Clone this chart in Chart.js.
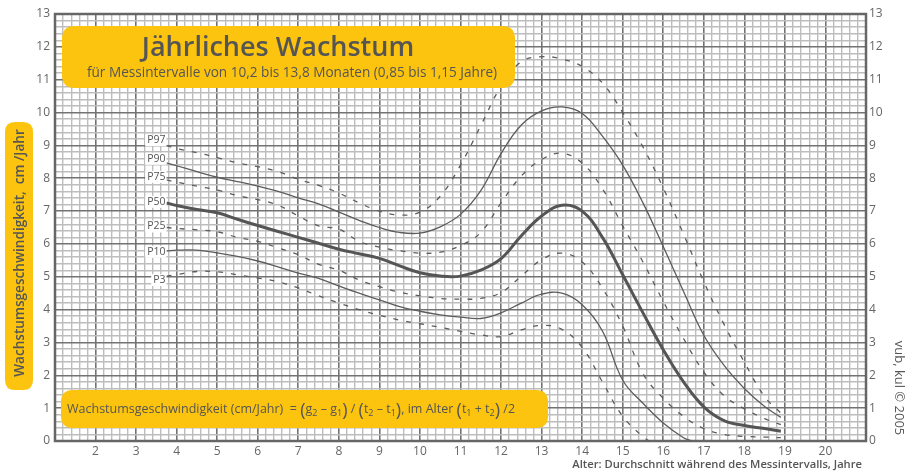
<!DOCTYPE html>
<html>
<head>
<meta charset="utf-8">
<script src="https://cdn.jsdelivr.net/npm/chart.js@4/dist/chart.umd.min.js"></script>
<style>
  html, body { margin: 0; padding: 0; background: #fff; }
</style>
</head>
<body>
<canvas id="c" width="913" height="472"></canvas>
<script>
// Age (years, mid-point of the measuring interval)
const ages = [3.75, 4, 4.5, 5, 5.5, 6, 6.5, 7, 7.5, 8, 8.5, 9, 9.5, 10, 10.5, 11, 11.5,
              12, 12.5, 13, 13.5, 14, 14.5, 15, 15.5, 16, 16.5, 17, 17.5, 18, 18.5, 18.9];

// Height velocity percentiles, cm/year
const p97 = [9.0, 8.9, 8.78, 8.63, 8.47, 8.35, 8.2, 7.97, 7.78, 7.55, 7.25, 7.0, 6.88, 6.97, 7.45, 8.4, 9.6,
             10.8, 11.55, 11.7, 11.63, 11.4, 10.9, 10.0, 8.95, 7.7, 6.3, 4.85, 3.55, 2.4, 1.35, 0.85];
const p90 = [8.47, 8.38, 8.2, 8.03, 7.9, 7.76, 7.6, 7.4, 7.22, 6.97, 6.72, 6.5, 6.35, 6.33, 6.52, 6.9, 7.62,
             8.75, 9.62, 10.05, 10.17, 9.97, 9.28, 8.4, 7.25, 5.92, 4.55, 3.22, 2.3, 1.6, 1.05, 0.72];
const p75 = [7.95, 7.88, 7.76, 7.64, 7.47, 7.35, 7.18, 6.85, 6.55, 6.45, 6.08, 5.9, 5.79, 5.72, 5.75, 5.95, 6.35,
             7.25, 8.07, 8.57, 8.76, 8.46, 7.68, 6.55, 5.45, 4.25, 3.12, 2.1, 1.38, 0.98, 0.68, 0.5];
const p50 = [7.25, 7.17, 7.05, 6.95, 6.75, 6.56, 6.38, 6.2, 6.02, 5.84, 5.7, 5.56, 5.33, 5.12, 5.02, 5.02, 5.2,
             5.55, 6.25, 6.85, 7.18, 7.0, 6.2, 5.06, 3.9, 2.78, 1.8, 1.04, 0.62, 0.47, 0.38, 0.3];
const p25 = [6.5, 6.47, 6.43, 6.37, 6.2, 6.08, 5.88, 5.67, 5.38, 5.2, 4.9, 4.7, 4.53, 4.42, 4.34, 4.32, 4.34,
             4.52, 5.02, 5.52, 5.72, 5.45, 4.65, 3.5, 2.05, 1.3, 0.75, 0.38, 0.2, 0.14, 0.12, 0.1];
const p10 = [5.79, 5.81, 5.81, 5.73, 5.62, 5.48, 5.3, 5.11, 4.95, 4.72, 4.5, 4.3, 4.09, 3.95, 3.84, 3.77, 3.73,
             3.9, 4.2, 4.47, 4.5, 4.15, 3.35, 1.85, 1.15, 0.55, 0.1];
const p3  = [5.02, 5.07, 5.16, 5.15, 5.06, 4.96, 4.85, 4.66, 4.42, 4.2, 4.0, 3.83, 3.68, 3.57, 3.46, 3.34, 3.23,
             3.18, 3.38, 3.52, 3.4, 2.85, 1.8, 0.75, 0.13];
// ages at which the lowest curves reach zero
const zeroAgeP10 = 16.7;
const zeroAgeP3 = 15.65;

// Axis ranges and tick labels
const xMin = 1, xMax = 21, yMin = 0, yMax = 13;
const xTickLabels = [2, 3, 4, 5, 6, 7, 8, 9, 10, 11, 12, 13, 14, 15, 16, 17, 18, 19, 20];
const yTickLabels = [0, 1, 2, 3, 4, 5, 6, 7, 8, 9, 10, 11, 12, 13];
const minorStep = 0.2;

const FONT = '"Open Sans", Lato, sans-serif';
const INK = '#555555';
const YELLOW = '#FCC40E';

function points(vals, zeroAge) {
  const pts = vals.map((v, i) => ({ x: ages[i], y: v }));
  if (zeroAge !== undefined) pts.push({ x: zeroAge, y: 0 });
  return pts;
}

function stepTicks(min, max) {
  const out = [];
  const n = Math.round((max - min) / minorStep);
  for (let i = 0; i <= n; i++) out.push({ value: Math.round((min + i * minorStep) * 1e6) / 1e6 });
  return out;
}
const isWhole = v => Math.abs(v - Math.round(v)) < 1e-6;

const thin = 1.3;
const dash = [5, 8];
const lineColor = '#5c5c5c';

const datasets = [
  { label: 'P97', data: points(p97), borderDash: dash, borderWidth: thin },
  { label: 'P90', data: points(p90), borderWidth: thin },
  { label: 'P75', data: points(p75), borderDash: dash, borderWidth: thin },
  { label: 'P50', data: points(p50), borderWidth: 3, borderColor: '#555' },
  { label: 'P25', data: points(p25), borderDash: dash, borderWidth: thin },
  { label: 'P10', data: points(p10, zeroAgeP10), borderWidth: thin },
  { label: 'P3',  data: points(p3, zeroAgeP3), borderDash: dash, borderWidth: thin }
].map(d => Object.assign({
  borderColor: lineColor, pointRadius: 0, fill: false, tension: 0.4, clip: 1
}, d));

function roundRect(ctx, x, y, w, h, r) {
  ctx.beginPath();
  ctx.moveTo(x + r, y);
  ctx.lineTo(x + w - r, y);
  ctx.quadraticCurveTo(x + w, y, x + w, y + r);
  ctx.lineTo(x + w, y + h - r);
  ctx.quadraticCurveTo(x + w, y + h, x + w - r, y + h);
  ctx.lineTo(x + r, y + h);
  ctx.quadraticCurveTo(x, y + h, x, y + h - r);
  ctx.lineTo(x, y + r);
  ctx.quadraticCurveTo(x, y, x + r, y);
  ctx.closePath();
}

function drawRich(ctx, x, y, parts, size) {
  for (const p of parts) {
    let fs = size, dy = 0;
    if (p.sub) { fs = size * 0.72; dy = 3; }
    if (p.big) { fs = size * 1.45; dy = 2.5; }
    ctx.font = `${fs}px ${FONT}`;
    ctx.fillText(p.t, x, y + dy);
    x += ctx.measureText(p.t).width;
  }
}

// Frame, percentile labels and the yellow annotation boxes
const decorations = {
  id: 'decorations',
  beforeDatasetsDraw(chart) {
    const { ctx, chartArea: a } = chart;
    ctx.save();
    ctx.strokeStyle = '#666';
    ctx.lineWidth = 2.5;
    ctx.strokeRect(a.left, a.top, a.right - a.left, a.bottom - a.top);
    ctx.restore();
  },
  afterDatasetsDraw(chart) {
    const { ctx, scales } = chart;
    ctx.save();

    // percentile names at the start of each curve
    ctx.font = `10.5px ${FONT}`;
    ctx.textAlign = 'right';
    ctx.textBaseline = 'middle';
    const offs = { P97: -5, P90: -4, P75: -3, P50: -1, P25: -1, P10: 1, P3: 4 };
    chart.data.datasets.forEach(ds => {
      const first = ds.data[0];
      const px = scales.x.getPixelForValue(first.x) - 1;
      const py = scales.y.getPixelForValue(first.y) + offs[ds.label];
      const w = ctx.measureText(ds.label).width;
      ctx.fillStyle = '#fff';
      ctx.fillRect(px - w - 2, py - 6, w + 3, 12);
      ctx.fillStyle = INK;
      ctx.fillText(ds.label, px, py);
    });

    // title box
    ctx.fillStyle = YELLOW;
    roundRect(ctx, 62, 26, 453, 62, 13);
    ctx.fill();
    ctx.fillStyle = INK;
    ctx.textAlign = 'center';
    ctx.textBaseline = 'alphabetic';
    ctx.font = `600 27px ${FONT}`;
    ctx.fillText('Jährliches Wachstum', 278, 56);
    ctx.font = `13.6px ${FONT}`;
    ctx.fillText('für Messintervalle von 10,2 bis 13,8 Monaten (0,85 bis 1,15 Jahre)', 292, 77);

    // formula box
    ctx.fillStyle = YELLOW;
    roundRect(ctx, 61, 390, 487, 38, 12);
    ctx.fill();
    ctx.fillStyle = INK;
    ctx.textAlign = 'left';
    drawRich(ctx, 67, 413, [
      { t: 'Wachstumsgeschwindigkeit (cm/Jahr)  = ' }, { t: '(', big: true }, { t: 'g' }, { t: '2', sub: true },
      { t: ' – g' }, { t: '1', sub: true }, { t: ')', big: true }, { t: ' / ' }, { t: '(', big: true },
      { t: 't' }, { t: '2', sub: true }, { t: ' – t' }, { t: '1', sub: true }, { t: ')', big: true },
      { t: ', im Alter ' }, { t: '(', big: true }, { t: 't' }, { t: '1', sub: true }, { t: ' + t' },
      { t: '2', sub: true }, { t: ')', big: true }, { t: ' /2' }
    ], 12.5);
    ctx.restore();
  },
  afterDraw(chart) {
    const { ctx } = chart;
    ctx.save();
    // y axis title box
    ctx.fillStyle = YELLOW;
    roundRect(ctx, 5, 122, 28, 268, 10);
    ctx.fill();
    ctx.fillStyle = INK;
    ctx.translate(19, 253);
    ctx.rotate(-Math.PI / 2);
    ctx.textAlign = 'center';
    ctx.textBaseline = 'middle';
    ctx.font = `600 13.6px ${FONT}`;
    ctx.fillText('Wachstumsgeschwindigkeit,  cm /Jahr', 0, 1);
    ctx.restore();

    ctx.save();
    ctx.fillStyle = INK;
    ctx.font = `600 11.2px ${FONT}`;
    ctx.textAlign = 'right';
    ctx.textBaseline = 'alphabetic';
    ctx.fillText('Alter: Durchschnitt während des Messintervalls, Jahre', 862, 468);

    ctx.translate(899, 388);
    ctx.rotate(Math.PI / 2);
    ctx.font = `13px ${FONT}`;
    ctx.textAlign = 'center';
    ctx.textBaseline = 'middle';
    ctx.fillText('vub, kul © 2005', 0, 0);
    ctx.restore();
  }
};

const gridColor = c => isWhole(c.tick.value) ? '#737373' : '#bdbdbd';
const gridWidth = c => isWhole(c.tick.value) ? 1.6 : 1.4;
const tickFont = { family: FONT, size: 12 };

new Chart(document.getElementById('c'), {
  type: 'line',
  data: { datasets },
  options: {
    responsive: false,
    devicePixelRatio: 1,
    animation: false,
    events: [],
    layout: { padding: { top: 14, left: 0, right: 0, bottom: 0 } },
    plugins: { legend: { display: false }, tooltip: { enabled: false } },
    scales: {
      x: {
        type: 'linear', min: xMin, max: xMax,
        afterBuildTicks: s => { s.ticks = stepTicks(xMin, xMax); },
        afterFit: s => { s.height = 31; },
        border: { display: false },
        grid: { color: gridColor, lineWidth: gridWidth, drawTicks: false },
        ticks: {
          autoSkip: false, maxRotation: 0, padding: 3, color: '#666', font: tickFont,
          callback: v => xTickLabels.includes(Math.round(v)) && isWhole(v) ? String(Math.round(v)) : ''
        }
      },
      y: {
        type: 'linear', position: 'left', min: yMin, max: yMax,
        afterBuildTicks: s => { s.ticks = stepTicks(yMin, yMax); },
        afterFit: s => { s.width = 55; },
        border: { display: false },
        grid: { color: gridColor, lineWidth: gridWidth, drawTicks: false },
        ticks: {
          autoSkip: false, padding: 5, color: '#666', font: tickFont,
          callback: v => isWhole(v) && yTickLabels.includes(Math.round(v)) ? String(Math.round(v)) : ''
        }
      },
      y2: {
        type: 'linear', position: 'right', min: yMin, max: yMax,
        afterBuildTicks: s => { s.ticks = stepTicks(yMin, yMax); },
        afterFit: s => { s.width = 47; },
        border: { display: false },
        grid: { display: false, drawTicks: false },
        ticks: {
          autoSkip: false, padding: 3, color: '#666', font: tickFont,
          callback: v => isWhole(v) && yTickLabels.includes(Math.round(v)) ? String(Math.round(v)) : ''
        }
      }
    }
  },
  plugins: [decorations]
});
</script>
</body>
</html>
